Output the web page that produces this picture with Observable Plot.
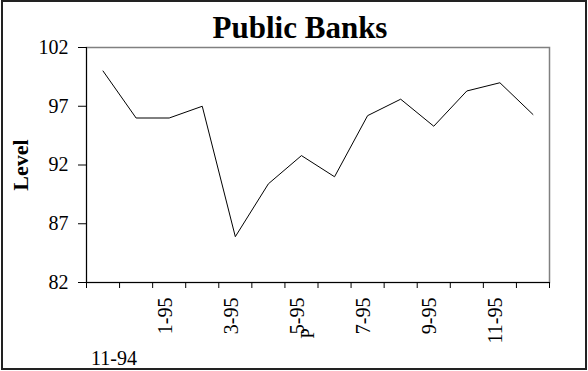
<!DOCTYPE html>
<html>
<head>
<meta charset="utf-8">
<script src="https://cdn.jsdelivr.net/npm/d3@7"></script>
<script src="https://cdn.jsdelivr.net/npm/@observablehq/plot@0.6"></script>
<style>
  html, body { margin: 0; padding: 0; background: #fff; }
  #wrap { position: relative; width: 588px; height: 371px; }
  #border { position: absolute; left: 1px; top: 0; width: 586px; height: 370px; box-sizing: border-box; border: 2px solid #222; pointer-events: none; }
</style>
</head>
<body>
<div id="wrap"><div id="border"></div></div>
<script>
const title = "Public Banks";
const yTitle = "Level";
const xTitle = "P";
const months = ["11-94","12-94","1-95","2-95","3-95","4-95","5-95","6-95","7-95","8-95","9-95","10-95","11-95","12-95"];
const values = [100.0, 96.0, 96.0, 97.0, 85.9, 90.4, 92.8, 91.0, 96.2, 97.6, 95.3, 98.3, 99.0, 96.3];
const rotatedLabels = ["1-95","3-95","5-95","7-95","9-95","11-95"];
const firstLabel = "11-94";
const yTicks = [82, 87, 92, 97, 102];

const data = months.map((m, i) => ({month: m, i, value: values[i]}));
const center = m => months.indexOf(m) + 0.5;

const chart = Plot.plot({
  width: 588,
  height: 371,
  marginLeft: 86,
  marginRight: 39,
  marginTop: 47,
  marginBottom: 89,
  style: {fontFamily: "'Liberation Serif', 'Times New Roman', serif", background: "transparent", color: "#000"},
  x: {domain: [0, months.length]},
  y: {domain: [82, 102]},
  marks: [
    Plot.frame({stroke: "#808080", strokeWidth: 1.5}),
    Plot.ruleX([0], {stroke: "#000", strokeWidth: 1}),
    Plot.ruleY([82], {stroke: "#000", strokeWidth: 1}),
    Plot.axisY({ticks: yTicks, tickSize: 8, tickPadding: 10, fontSize: 20, label: null, stroke: "#000"}),
    Plot.axisX({ticks: d3.range(months.length + 1), tickSize: 6, tickFormat: () => "", label: null, stroke: "#000"}),
    Plot.line(data, {x: d => d.i + 0.5, y: "value", stroke: "#000", strokeWidth: 1}),
    Plot.text(rotatedLabels, {x: center, text: d => d, frameAnchor: "bottom", rotate: -90, textAnchor: "end", lineAnchor: "middle", dy: 15, dx: -4, fontSize: 20, fill: "#000"}),
    Plot.text([firstLabel], {x: center, text: d => d, frameAnchor: "bottom", textAnchor: "middle", dy: 76, dx: 11, lineAnchor: "middle", fontSize: 20, fill: "#000"}),
    Plot.text([xTitle], {x: () => center("5-95"), text: d => d, frameAnchor: "bottom", rotate: -90, textAnchor: "middle", dy: 51, dx: 6, lineAnchor: "middle", fontSize: 19, fill: "#000"}),
    Plot.text([yTitle], {frameAnchor: "left", rotate: -90, textAnchor: "middle", dx: -66, dy: 0, lineAnchor: "middle", fontSize: 22, fontWeight: "bold", fill: "#000"}),
    Plot.text([title], {frameAnchor: "top", textAnchor: "middle", dx: -18, dy: -10, lineAnchor: "bottom", fontSize: 31, fontWeight: "bold", fill: "#000"})
  ]
});
document.getElementById("wrap").prepend(chart);
</script>
</body>
</html>
